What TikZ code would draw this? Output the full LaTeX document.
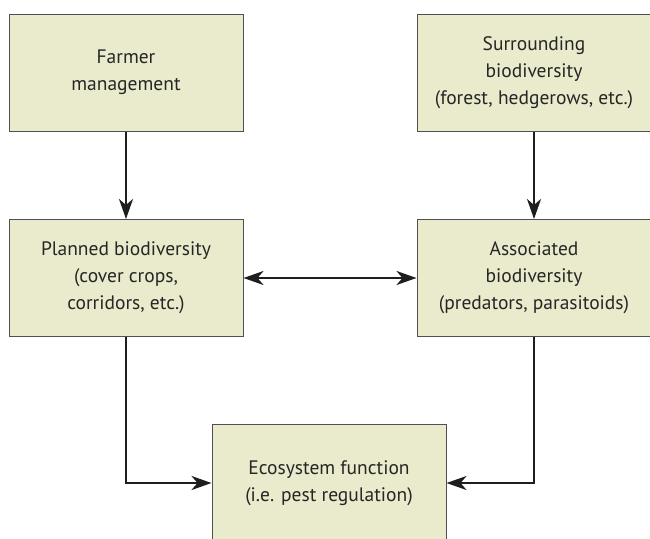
\documentclass[tikz,border=0pt]{standalone}
\usepackage{fontspec}
\setmainfont{PT Sans}
\usepackage{tikz}
\usetikzlibrary{arrows,arrows.meta,positioning}
\usepackage{xcolor}
\definecolor{agbeige}{RGB}{234,234,204}
\definecolor{agborder}{RGB}{80,80,80}
\definecolor{agarrow}{RGB}{30,30,30}
\tikzstyle{arrow} = [line width=2.2pt,-{Stealth[length=20pt,width=14pt,inset=6pt]},color=agarrow]
\tikzstyle{twoway} = [line width=2.2pt,{Stealth[length=20pt,width=14pt,inset=6pt]}-{Stealth[length=20pt,width=14pt,inset=6pt]},color=agarrow]
\tikzstyle{factor} = [rectangle, minimum width=234pt, minimum height=117pt, align=center, draw=agborder, fill=agbeige, line width=1pt, font=\fontsize{19.5}{27}\selectfont, text=black!85]

\begin{document}
\begin{tikzpicture}[x=1pt, y=-1pt]
\useasboundingbox (0,0) rectangle (650,538);
% Top row
\node[factor] (farmer) at (126,72.5) {Farmer\\management};
\node[factor] (surround) at (534,72.5) {Surrounding\\biodiversity\\(forest, hedgerows, etc.)};
% Middle row
\node[factor] (planned) at (126,278) {Planned biodiversity\\(cover crops,\\corridors, etc.)};
\node[factor] (assoc) at (534,278) {Associated\\biodiversity\\(predators, parasitoids)};
% Bottom
\node[factor] (eco) at (329,483) {Ecosystem function\\(i.e. pest regulation)};

\draw[arrow] (farmer) -- (planned);
\draw[arrow] (surround) -- (assoc);
\draw[twoway] (planned) -- (assoc);
\draw[arrow] (planned.south) |- (eco.west);
\draw[arrow] (assoc.south) |- (eco.east);
\end{tikzpicture}
\end{document}
